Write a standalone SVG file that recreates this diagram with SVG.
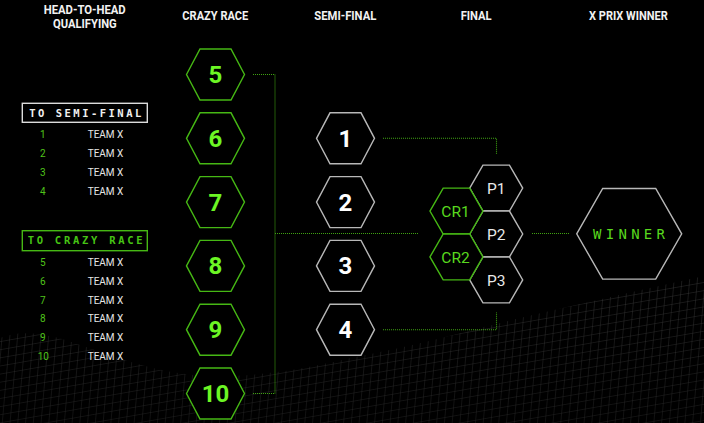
<svg xmlns="http://www.w3.org/2000/svg" xmlns:xlink="http://www.w3.org/1999/xlink" width="704" height="423" viewBox="0 0 704 423">
<style>
.hdr{font-family:Roboto,"Liberation Sans",sans-serif;font-weight:bold;font-size:12px;fill:#f2f2f2;text-anchor:middle}
.tag{font-family:"DejaVu Sans Mono","Liberation Mono",monospace;font-weight:bold;font-size:10.5px}
.num{font-family:Roboto,"Liberation Sans",sans-serif;font-size:10px;fill:#4fc31a;text-anchor:middle}
.team{font-family:Roboto,"Liberation Sans",sans-serif;font-size:10px;fill:#e6e6e6}
.gh{fill:#000;stroke:#46b814;stroke-width:1.4}
.wh{fill:#000;stroke:#b8b8b8;stroke-width:1.4}
.big{font-family:Roboto,"Liberation Sans",sans-serif;font-weight:bold;font-size:24px;text-anchor:middle}
.mid{font-family:Roboto,"Liberation Sans",sans-serif;font-size:15.5px;text-anchor:middle}
.conn{fill:none;stroke:#3fa312;stroke-width:1.1;stroke-dasharray:1 1}
</style>
<defs>
<polygon id="hexM" points="-29,0 -15.5,-25.5 15.5,-25.5 29,0 15.5,25.5 -15.5,25.5"/>
<polygon id="hexS" points="-26.5,0 -13.25,-22.95 13.25,-22.95 26.5,0 13.25,22.95 -13.25,22.95"/>
<polygon id="hexL" points="-52.5,0 -26.5,-45.3 26.5,-45.3 52.5,0 26.5,45.3 -26.5,45.3"/>
<pattern id="grid" width="8" height="8" patternUnits="userSpaceOnUse" patternTransform="rotate(-10) skewX(-15)">
<path d="M0,0 H8 M0,0 V8" fill="none" stroke="#454545" stroke-width="0.7"/>
</pattern>
<linearGradient id="fade" x1="0" y1="0" x2="0" y2="1">
<stop offset="0" stop-color="#000" stop-opacity="0"/>
<stop offset="1" stop-color="#000" stop-opacity="0.35"/>
</linearGradient>
</defs>
<rect width="704" height="423" fill="#000"/>
<g id="terrain">
<path d="M0,338 C20,330 45,332 80,345 C130,362 170,378 230,376 C290,374 330,362 380,352 C430,342 470,330 520,318 C580,304 640,290 704,276 L704,423 L0,423 Z" fill="url(#grid)"/>
<path d="M0,338 C20,330 45,332 80,345 C130,362 170,378 230,376 C290,374 330,362 380,352 C430,342 470,330 520,318 C580,304 640,290 704,276 L704,423 L0,423 Z" fill="url(#fade)"/>
</g>
<g id="headers">
<text class="hdr" x="84.7" y="14.3" textLength="82" lengthAdjust="spacingAndGlyphs">HEAD-TO-HEAD</text>
<text class="hdr" x="84.9" y="27.7" textLength="63.7" lengthAdjust="spacingAndGlyphs">QUALIFYING</text>
<text class="hdr" x="215.3" y="20" textLength="66" lengthAdjust="spacingAndGlyphs">CRAZY RACE</text>
<text class="hdr" x="345.3" y="20" textLength="62" lengthAdjust="spacingAndGlyphs">SEMI-FINAL</text>
<text class="hdr" x="476.2" y="20" textLength="31" lengthAdjust="spacingAndGlyphs">FINAL</text>
<text class="hdr" x="628.4" y="20" textLength="78.7" lengthAdjust="spacingAndGlyphs">X PRIX WINNER</text>
</g>
<g id="list-semi">
<rect x="22.3" y="103.3" width="125" height="19" fill="none" stroke="#dcdcdc" stroke-width="1.4"/>
<text class="tag" x="29.3" y="116.7" fill="#f0f0f0" textLength="112" lengthAdjust="spacing">TO SEMI-FINAL</text>
<text class="num" x="42.7" y="138">1</text><text class="team" x="87.7" y="138">TEAM X</text>
<text class="num" x="42.7" y="157.1">2</text><text class="team" x="87.7" y="157.1">TEAM X</text>
<text class="num" x="42.7" y="176.2">3</text><text class="team" x="87.7" y="176.2">TEAM X</text>
<text class="num" x="42.7" y="195.3">4</text><text class="team" x="87.7" y="195.3">TEAM X</text>
</g>
<g id="list-crazy">
<rect x="22.3" y="230.7" width="125" height="20" fill="none" stroke="#46b814" stroke-width="1.4"/>
<text class="tag" x="27.7" y="244.3" fill="#46c414" textLength="115" lengthAdjust="spacing">TO CRAZY RACE</text>
<text class="num" x="42.7" y="266.2">5</text><text class="team" x="87.7" y="266.2">TEAM X</text>
<text class="num" x="42.7" y="284.9">6</text><text class="team" x="87.7" y="284.9">TEAM X</text>
<text class="num" x="42.7" y="303.6">7</text><text class="team" x="87.7" y="303.6">TEAM X</text>
<text class="num" x="42.7" y="322.3">8</text><text class="team" x="87.7" y="322.3">TEAM X</text>
<text class="num" x="42.7" y="341">9</text><text class="team" x="87.7" y="341">TEAM X</text>
<text class="num" x="43.3" y="359.7">10</text><text class="team" x="87.7" y="359.7">TEAM X</text>
</g>
<g id="connectors">
<polyline class="conn" points="253,74.5 275,74.5 275,393.5 253,393.5"/>
<polyline class="conn" points="275,233.5 419,233.5"/>
<polyline class="conn" points="383,138.3 496.5,138.3 496.5,154.5"/>
<polyline class="conn" points="383,329.7 496.5,329.7 496.5,312.5"/>
<polyline class="conn" points="532,233.5 569,233.5"/>
</g>
<g id="cr5"><use href="#hexM" class="gh" x="215.5" y="74.5"/><text class="big" x="215.5" y="83" fill="#6cf524">5</text></g>
<g id="cr6"><use href="#hexM" class="gh" x="215.5" y="138.3"/><text class="big" x="215.5" y="146.8" fill="#6cf524">6</text></g>
<g id="cr7"><use href="#hexM" class="gh" x="215.5" y="202.1"/><text class="big" x="215.5" y="210.6" fill="#6cf524">7</text></g>
<g id="cr8"><use href="#hexM" class="gh" x="215.5" y="265.9"/><text class="big" x="215.5" y="274.4" fill="#6cf524">8</text></g>
<g id="cr9"><use href="#hexM" class="gh" x="215.5" y="329.7"/><text class="big" x="215.5" y="338.2" fill="#6cf524">9</text></g>
<g id="cr10"><use href="#hexM" class="gh" x="215.5" y="393.5"/><text class="big" x="215.5" y="402" fill="#6cf524">10</text></g>
<g id="sf1"><use href="#hexM" class="wh" x="345.5" y="138.3"/><text class="big" x="345.5" y="146.8" fill="#fff">1</text></g>
<g id="sf2"><use href="#hexM" class="wh" x="345.5" y="202.1"/><text class="big" x="345.5" y="210.6" fill="#fff">2</text></g>
<g id="sf3"><use href="#hexM" class="wh" x="345.5" y="265.9"/><text class="big" x="345.5" y="274.4" fill="#fff">3</text></g>
<g id="sf4"><use href="#hexM" class="wh" x="345.5" y="329.7"/><text class="big" x="345.5" y="338.2" fill="#fff">4</text></g>
<g id="p1"><use href="#hexS" class="wh" x="496.2" y="188.1"/><text class="mid" x="496.2" y="193.8" fill="#e8e8e8">P1</text></g>
<g id="p2"><use href="#hexS" class="wh" x="496.2" y="234"/><text class="mid" x="496.2" y="239.7" fill="#e8e8e8">P2</text></g>
<g id="p3"><use href="#hexS" class="wh" x="496.2" y="279.9"/><text class="mid" x="496.2" y="285.6" fill="#e8e8e8">P3</text></g>
<g id="crq1"><use href="#hexS" class="gh" x="456.45" y="211.05"/><text class="mid" x="455.5" y="216.7" fill="#58d81e">CR1</text></g>
<g id="crq2"><use href="#hexS" class="gh" x="456.45" y="256.95"/><text class="mid" x="455.5" y="262.6" fill="#58d81e">CR2</text></g>
<g id="winner"><use href="#hexL" class="wh" x="629.2" y="233.8"/><text x="593" y="238.5" font-family="'DejaVu Sans Mono','Liberation Mono',monospace" font-size="14" fill="#58d81e" textLength="72" lengthAdjust="spacing">WINNER</text></g>
</svg>
